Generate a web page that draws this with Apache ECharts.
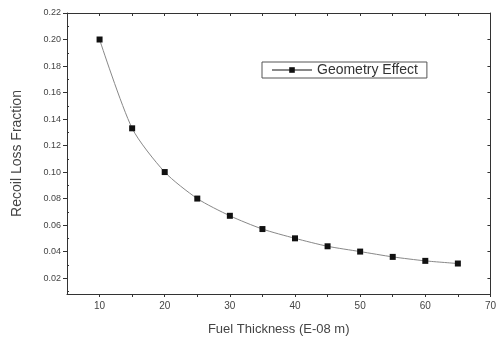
<!DOCTYPE html>
<html>
<head>
<meta charset="utf-8">
<script src="https://cdn.jsdelivr.net/npm/echarts@6/dist/echarts.min.js"></script>
<style>
  html, body { margin: 0; padding: 0; background: #fff; }
  #chart { width: 499px; height: 346px; }
</style>
</head>
<body>
<div id="chart"></div>
<script>
// Fuel thickness (E-08 m) and recoil loss fraction
const thickness = [10, 15, 20, 25, 30, 35, 40, 45, 50, 55, 60, 65];
const lossFraction = [0.200, 0.133, 0.100, 0.080, 0.067, 0.057, 0.050, 0.044, 0.040, 0.036, 0.033, 0.031];
const xTickLabels = [10, 20, 30, 40, 50, 60, 70];
const xTicks = [10, 15, 20, 25, 30, 35, 40, 45, 50, 55, 60, 65, 70];
const yTickLabels = [0.02, 0.04, 0.06, 0.08, 0.10, 0.12, 0.14, 0.16, 0.18, 0.20, 0.22];
const yMinorTicks = [0.01, 0.03, 0.05, 0.07, 0.09, 0.11, 0.13, 0.15, 0.17, 0.19, 0.21];
const seriesName = 'Geometry Effect';

const font = 'Liberation Sans, Arial, sans-serif';
const axisColor = '#333';
const textColor = '#444';

const chart = echarts.init(document.getElementById('chart'));

const frameAxis = {
  axisLine: { show: true, lineStyle: { color: axisColor, width: 1 } },
  axisLabel: { show: false },
  splitLine: { show: false }
};

chart.setOption({
  animation: false,
  backgroundColor: '#fff',
  grid: { left: 67, right: 8, top: 13, bottom: 52 },
  legend: {
    data: [seriesName],
    left: 262, top: 62,
    itemWidth: 40, itemHeight: 7, itemGap: 4,
    padding: [1, 9, 1, 9],
    borderColor: '#555', borderWidth: 1,
    textStyle: { fontFamily: font, fontSize: 14, color: '#333' }
  },
  xAxis: [{
    type: 'value', min: 5, max: 70, position: 'bottom',
    name: 'Fuel Thickness (E-08 m)', nameLocation: 'middle', nameGap: 29,
    nameTextStyle: { fontFamily: font, fontSize: 13, color: textColor },
    axisLine: { show: true, onZero: false, lineStyle: { color: axisColor, width: 1 } },
    axisTick: { show: true, length: 3, customValues: xTicks, lineStyle: { color: axisColor } },
    axisLabel: { customValues: xTickLabels, fontFamily: font, fontSize: 10, color: textColor, margin: 7 },
    splitLine: { show: false }
  }, Object.assign({
    type: 'value', min: 5, max: 70, position: 'top',
    axisTick: { show: true, inside: true, length: 3, customValues: xTicks, lineStyle: { color: axisColor } }
  }, frameAxis)],
  yAxis: [{
    type: 'value', min: 0.008, max: 0.22, position: 'left',
    name: 'Recoil Loss Fraction', nameLocation: 'middle', nameGap: 43,
    nameTextStyle: { fontFamily: font, fontSize: 14, color: textColor },
    axisLine: { show: true, onZero: false, lineStyle: { color: axisColor, width: 1 } },
    axisTick: { show: true, length: 4, customValues: yTickLabels, lineStyle: { color: axisColor } },
    axisLabel: {
      customValues: yTickLabels,
      formatter: v => v.toFixed(2),
      fontFamily: font, fontSize: 9, color: textColor, margin: 6
    },
    splitLine: { show: false }
  }, {
    type: 'value', min: 0.008, max: 0.22, position: 'left',
    axisLine: { show: false },
    axisTick: { show: true, inside: true, length: 2, customValues: yMinorTicks, lineStyle: { color: axisColor } },
    axisLabel: { show: false },
    splitLine: { show: false }
  }, Object.assign({
    type: 'value', min: 0.008, max: 0.22, position: 'right',
    axisTick: { show: true, inside: true, length: 3, customValues: yTickLabels, lineStyle: { color: axisColor } }
  }, frameAxis)],
  series: [{
    name: seriesName,
    type: 'line',
    data: thickness.map((x, i) => [x, lossFraction[i]]),
    smooth: 0.25,
    symbol: 'rect', symbolSize: 6,
    itemStyle: { color: '#111' },
    lineStyle: { color: '#888', width: 1 }
  }]
});
</script>
</body>
</html>
